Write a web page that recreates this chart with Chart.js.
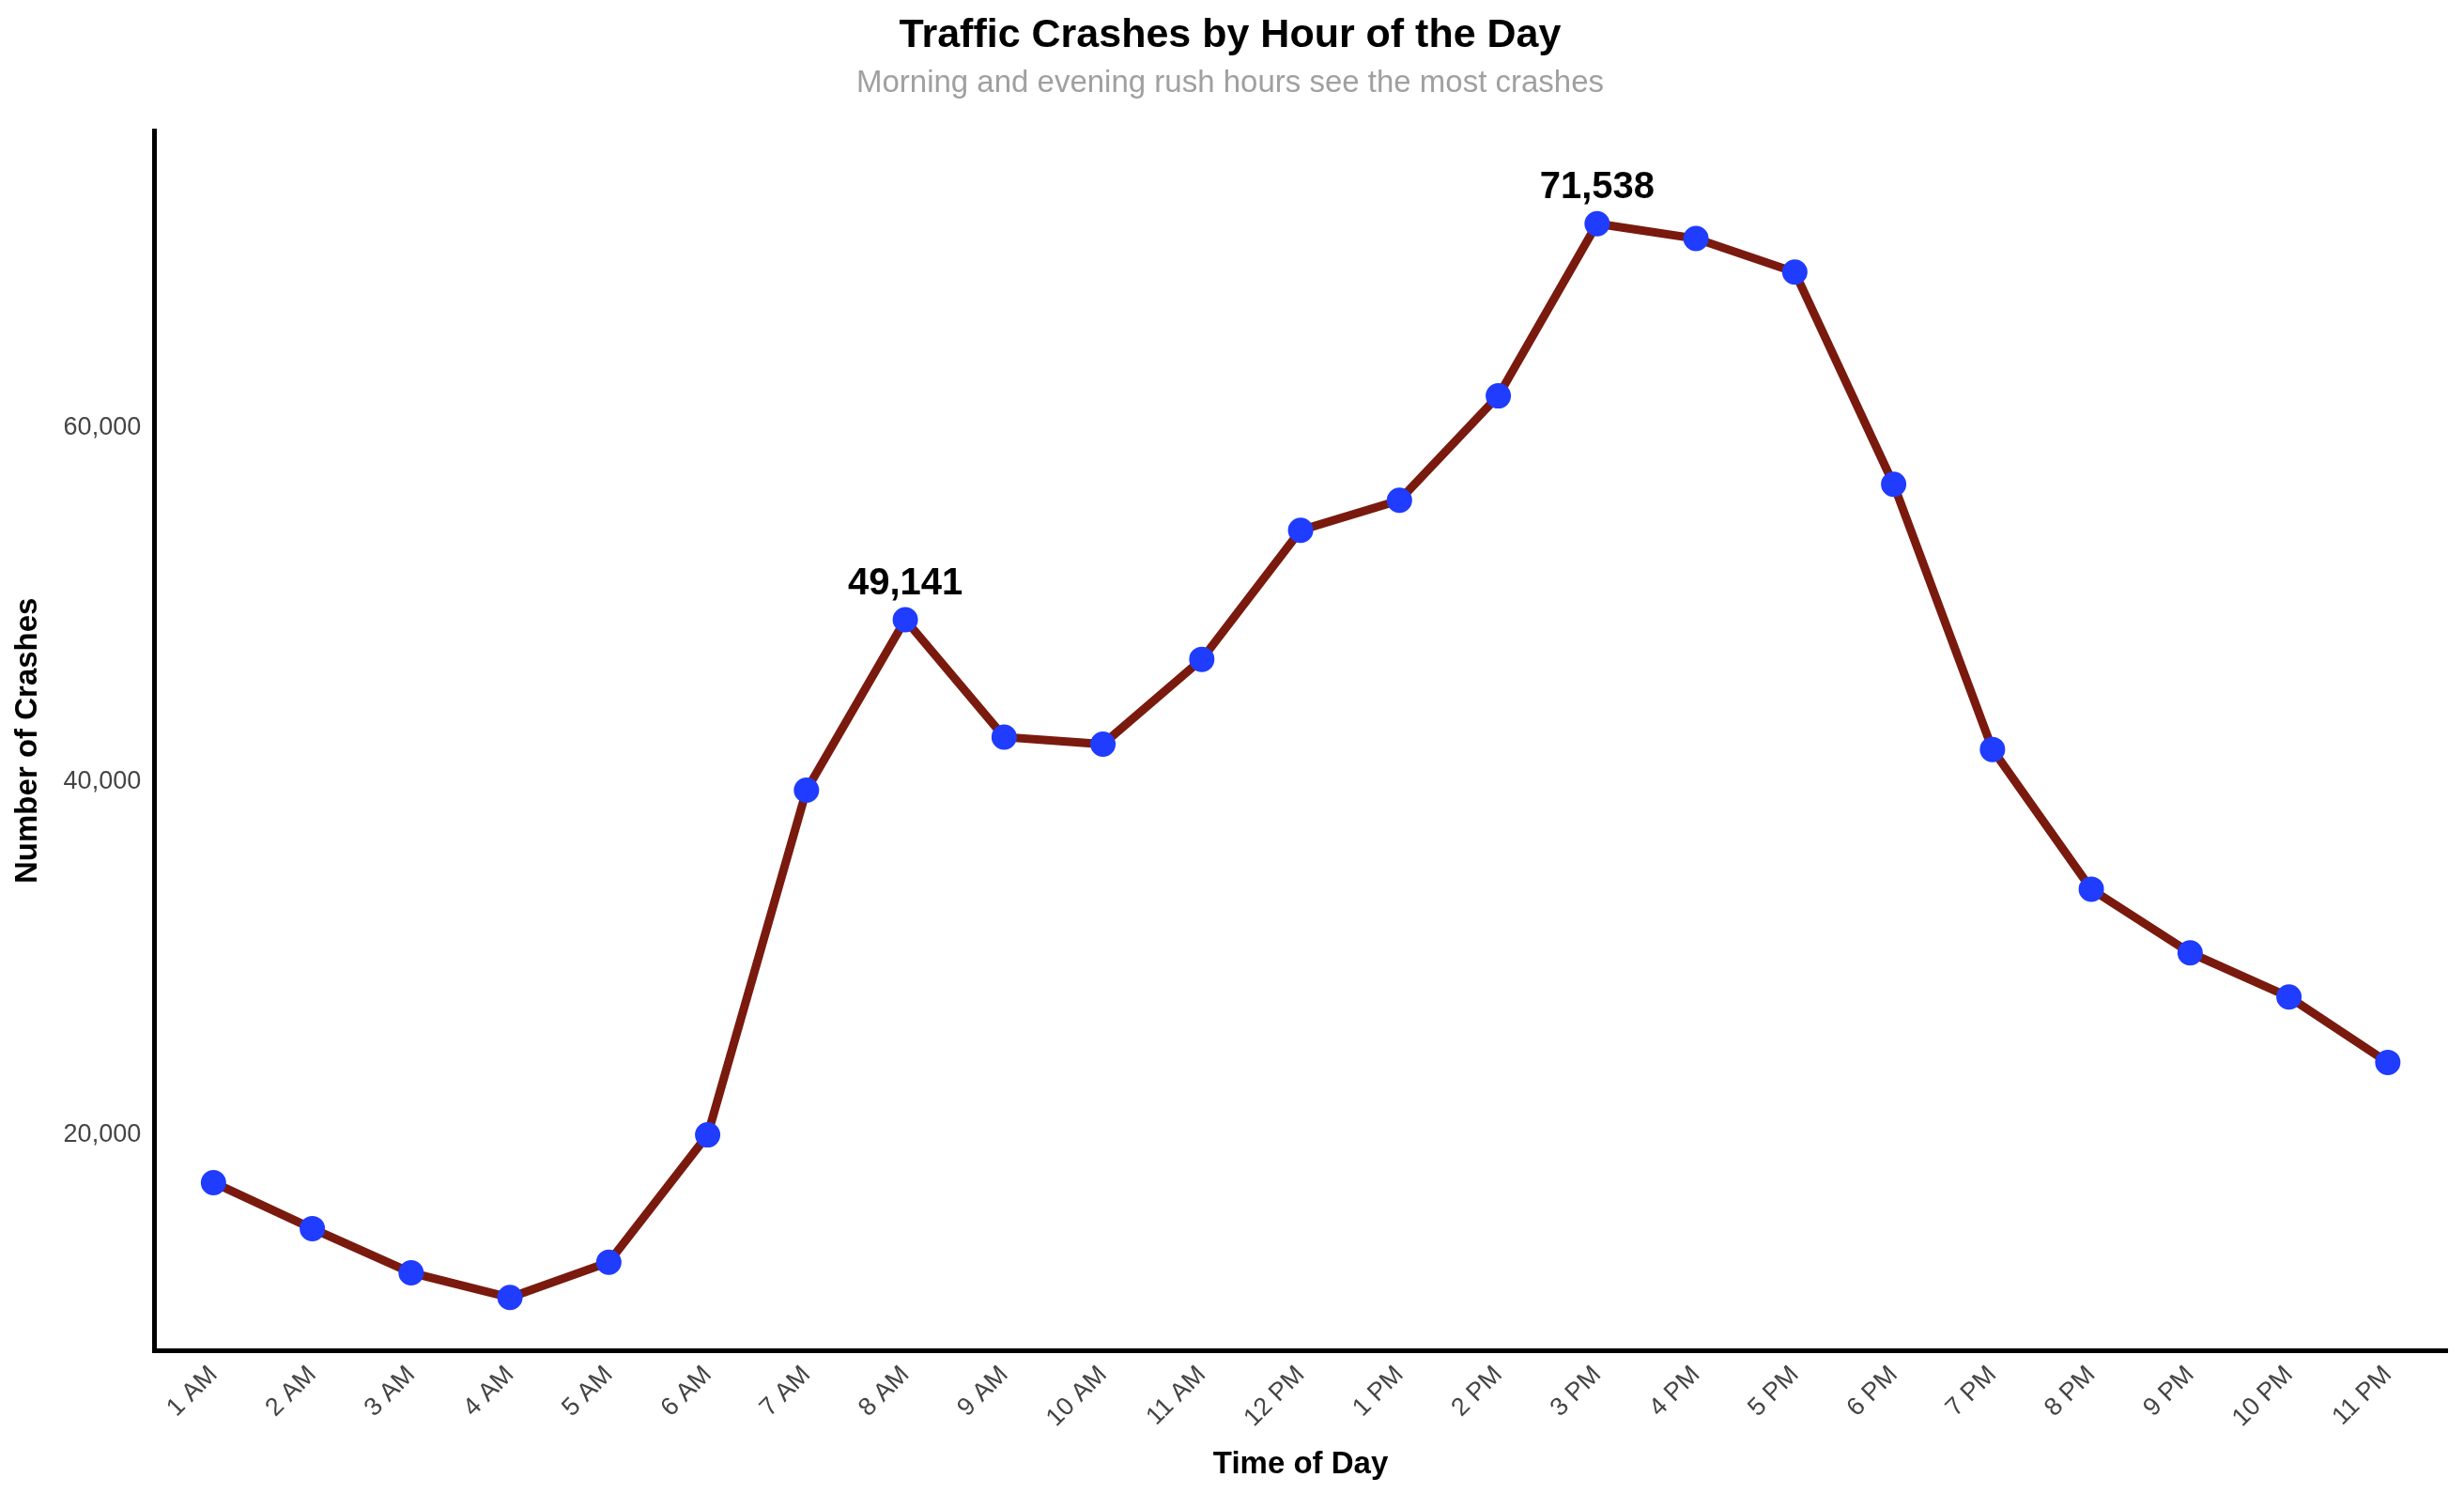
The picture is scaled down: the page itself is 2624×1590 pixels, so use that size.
<!DOCTYPE html>
<html>
<head>
<meta charset="UTF-8">
<script src="https://cdn.jsdelivr.net/npm/chart.js"></script>
<style>
  html, body { margin: 0; background: #fff; }
  #wrap { width: 2624px; height: 1590px; }
</style>
</head>
<body>
<div id="wrap"><canvas id="chart"></canvas></div>
<script>
const hours = ['1 AM','2 AM','3 AM','4 AM','5 AM','6 AM','7 AM','8 AM','9 AM','10 AM','11 AM','12 PM',
  '1 PM','2 PM','3 PM','4 PM','5 PM','6 PM','7 PM','8 PM','9 PM','10 PM','11 PM'];
const crashes = [17300, 14700, 12200, 10800, 12800, 20000, 39500, 49141, 42500, 42100, 46900, 54200,
  55900, 61800, 71538, 70700, 68800, 56800, 41800, 33900, 30300, 27800, 24100];
const yTicks = [20000, 40000, 60000];
const labelled = [7, 14];

const font = 'Arial, "Liberation Sans", sans-serif';

const peakLabels = {
  id: 'peakLabels',
  afterDatasetsDraw(chart) {
    const { ctx, scales: { x, y } } = chart;
    ctx.save();
    ctx.font = 'bold 40px ' + font;
    ctx.fillStyle = '#000';
    ctx.textAlign = 'center';
    ctx.textBaseline = 'bottom';
    labelled.forEach(i => {
      ctx.fillText(crashes[i].toLocaleString('en-US'), x.getPixelForValue(i), y.getPixelForValue(crashes[i]) - 18);
    });
    ctx.restore();
  }
};

new Chart(document.getElementById('chart'), {
  type: 'line',
  data: {
    datasets: [{
      data: crashes.map((v, i) => ({ x: i, y: v })),
      borderColor: '#7a1a0e',
      borderWidth: 9,
      pointBackgroundColor: '#1f3cff',
      pointBorderColor: '#1f3cff',
      pointRadius: 9,
      tension: 0
    }]
  },
  options: {
    responsive: true,
    maintainAspectRatio: false,
    animation: false,
    layout: { padding: { left: 6, right: 10, top: 10, bottom: 6 } },
    plugins: {
      legend: { display: false },
      tooltip: { enabled: false },
      title: {
        display: true, text: 'Traffic Crashes by Hour of the Day',
        color: '#000', font: { family: font, size: 43, weight: 'bold' }, padding: { top: 2, bottom: 6 }
      },
      subtitle: {
        display: true, text: 'Morning and evening rush hours see the most crashes',
        color: '#a0a0a0', font: { family: font, size: 33 }, padding: { bottom: 30 }
      }
    },
    scales: {
      x: {
        type: 'linear', min: -0.6, max: 22.6,
        afterBuildTicks: s => { s.ticks = hours.map((h, i) => ({ value: i })); },
        grid: { display: false, drawTicks: false },
        border: { color: '#000', width: 5 },
        ticks: {
          callback: v => hours[v], color: '#444', font: { family: font, size: 27 },
          maxRotation: 45, minRotation: 45, autoSkip: false, padding: 10
        },
        title: { display: true, text: 'Time of Day', color: '#000', font: { family: font, size: 33, weight: 'bold' } }
      },
      y: {
        min: 7800, max: 76800,
        afterBuildTicks: s => { s.ticks = yTicks.map(v => ({ value: v })); },
        grid: { display: false, drawTicks: false },
        border: { color: '#000', width: 5 },
        ticks: { callback: v => v.toLocaleString('en-US'), color: '#444', font: { family: font, size: 27 }, padding: 14 },
        title: { display: true, text: 'Number of Crashes', color: '#000', font: { family: font, size: 33, weight: 'bold' } }
      }
    }
  },
  plugins: [peakLabels]
});
</script>
</body>
</html>
